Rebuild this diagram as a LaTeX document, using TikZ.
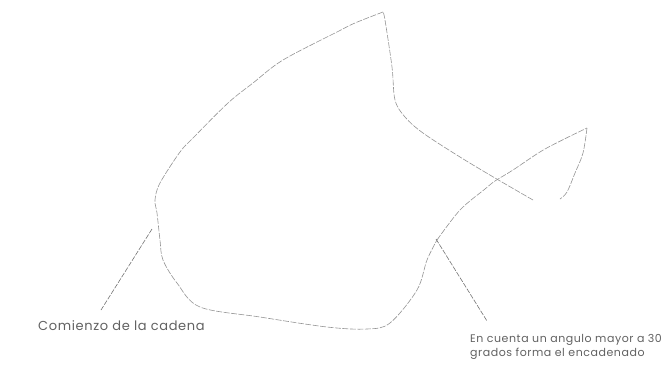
\documentclass[tikz,border=0pt]{standalone}
\usepackage{fontspec}
\setmainfont{Poppins}
\newfontfamily\rotulofont[LetterSpace=5]{Poppins}
\usetikzlibrary{positioning}

\begin{document}
\begin{tikzpicture}[x=1pt,y=-1pt,
  cadena/.style={black!42,line width=0.6pt,dash pattern=on 6pt off 1.5pt},
  guia/.style={black!55,line width=0.6pt,dash pattern=on 5pt off 1.5pt},
  rotulo/.style={font=\rotulofont\fontsize{11}{14}\selectfont,text=black!62,inner sep=0pt,align=left,anchor=north west}]
  \useasboundingbox (0,0) rectangle (670,376);
  % Cadena
  \draw[cadena] plot[smooth,tension=0.55] coordinates {
    (533,200) (495,178) (460,157) (423,133) (405,117) (395,100) (392,67) (385,20) (383,12)};
  \draw[cadena] plot[smooth,tension=0.55] coordinates {
    (383,12) (355,23) (337,32) (283,60) (253,83) (228,103) (193,138) (180,152) (160,183) (155,200)
    (157,213) (160,240) (163,260) (177,283) (200,307) (260,317) (327,327) (367,329) (390,323)
    (417,290) (427,260) (437,240)};
  \draw[cadena] plot[smooth,tension=0.55] coordinates {
    (437,240) (460,210) (485,189) (495,181) (513,170) (545,149) (587,128)};
  \draw[cadena] plot[smooth,tension=0.55] coordinates {
    (587,128) (583,153) (575,173) (567,192) (560,199)};
  % Rotulos
  \node[rotulo,font=\rotulofont\fontsize{13}{16}\selectfont] (comienzo) at (38,320) {Comienzo de la cadena};
  \node[rotulo] (angulo) at (470,334) {En cuenta un angulo mayor a 30\\grados forma el encadenado};
  \coordinate (inicio) at (152,229);
  \coordinate (inicioPie) at (101,310);
  \coordinate (vertice) at (436,239);
  \coordinate (verticePie) at (487,321);
  \draw[guia] (inicio) -- (inicioPie);
  \draw[guia] (vertice) -- (verticePie);
\end{tikzpicture}
\end{document}
